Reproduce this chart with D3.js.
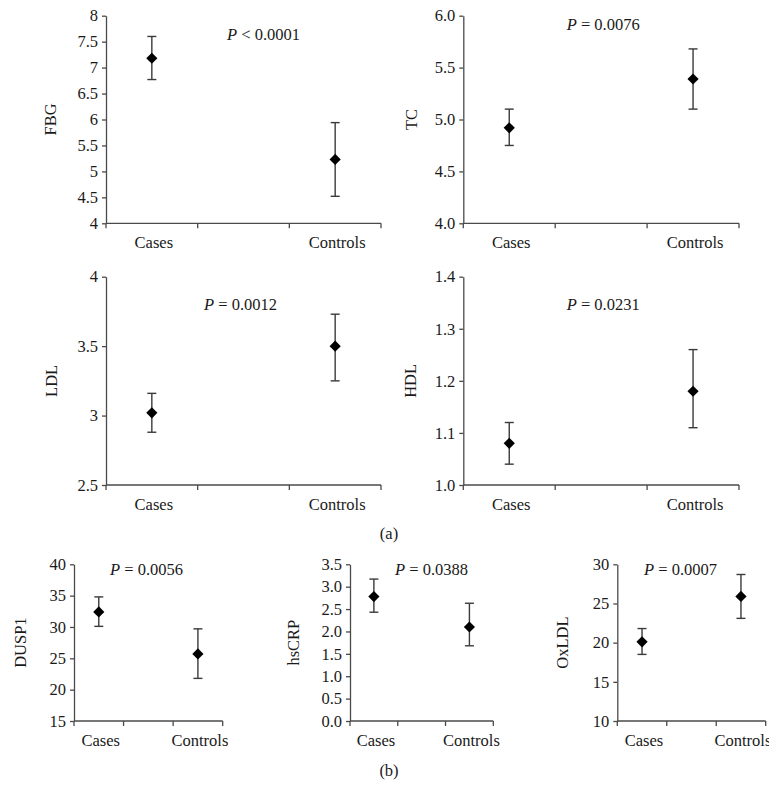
<!DOCTYPE html>
<html>
<head>
<meta charset="utf-8">
<script src="https://cdn.jsdelivr.net/npm/d3@7/dist/d3.min.js"></script>
<style>
  html, body { margin: 0; padding: 0; background: #fff; }
  svg { display: block; }
  text { font-family: "Liberation Serif", "Times New Roman", serif; fill: #1a1a1a; }
</style>
</head>
<body>
<svg id="chart" width="779" height="804"></svg>
<script>
// ---------- data ----------
const groups = ["Cases", "", "Controls"];
const metrics = ["FBG", "TC", "LDL", "HDL", "DUSP1", "hsCRP", "OxLDL"];
const pSigns = ["<", "=", "=", "=", "=", "=", "="];
const pValues = ["0.0001", "0.0076", "0.0012", "0.0231", "0.0056", "0.0388", "0.0007"];
const caseMean = [7.18, 4.92, 3.02, 1.08, 32.4, 2.78, 20.1];
const caseLow  = [6.77, 4.75, 2.88, 1.04, 30.1, 2.43, 18.5];
const caseHigh = [7.60, 5.10, 3.16, 1.12, 34.8, 3.17, 21.8];
const ctrlMean = [5.23, 5.39, 3.50, 1.18, 25.7, 2.10, 25.9];
const ctrlLow  = [4.52, 5.10, 3.25, 1.11, 21.8, 1.68, 23.1];
const ctrlHigh = [5.94, 5.68, 3.73, 1.26, 29.7, 2.63, 28.7];
const yTicks = [
  [4, 4.5, 5, 5.5, 6, 6.5, 7, 7.5, 8],
  [4.0, 4.5, 5.0, 5.5, 6.0],
  [2.5, 3, 3.5, 4],
  [1.0, 1.1, 1.2, 1.3, 1.4],
  [15, 20, 25, 30, 35, 40],
  [0.0, 0.5, 1.0, 1.5, 2.0, 2.5, 3.0, 3.5],
  [10, 15, 20, 25, 30]
];
const yFormats = ["", ".1f", "", ".1f", "", ".1f", ""];
const subLabels = ["(a)", "(b)"];

// ---------- layout ----------
const layout = [
  {x0: 106,   x1: 381,   yTop: 15.7,  yBot: 223.3, px: 227,   py: 40,  tx: 56},
  {x0: 463.3, x1: 739,   yTop: 15.7,  yBot: 223.3, px: 566.7, py: 30,  tx: 416.5},
  {x0: 106,   x1: 381,   yTop: 276.7, yBot: 485,   px: 204,   py: 310, tx: 56.5},
  {x0: 463.3, x1: 739,   yTop: 276.7, yBot: 485,   px: 566.7, py: 310, tx: 416},
  {x0: 74,    x1: 222.7, yTop: 564.3, yBot: 721,   px: 110,   py: 575, tx: 26},
  {x0: 350,   x1: 493.3, yTop: 564.3, yBot: 721,   px: 395,   py: 575, tx: 299},
  {x0: 617.3, x1: 765.7, yTop: 564.3, yBot: 721,   px: 644,   py: 575, tx: 568}
];
const subPos = [{x: 389, y: 539}, {x: 389, y: 776}];

const svg = d3.select("#chart");
const FS = 16.5;
const axisColor = "#4a4a4a";
const barColor = "#3a3a3a";

svg.append("defs").append("clipPath").attr("id", "pageclip")
  .append("rect").attr("x", 0).attr("y", 0).attr("width", 769).attr("height", 804);

const root = svg.append("g").attr("clip-path", "url(#pageclip)");

metrics.forEach((m, i) => {
  const L = layout[i];
  const ticks = yTicks[i];
  const y = d3.scaleLinear().domain([ticks[0], ticks[ticks.length - 1]]).range([L.yBot, L.yTop]);
  const x = d3.scaleBand().domain(groups).range([L.x0, L.x1]).padding(0);
  const g = root.append("g");

  // y axis
  const fmt = yFormats[i] ? d3.format(yFormats[i]) : d3.format("");
  const yAxis = d3.axisLeft(y).tickValues(ticks).tickFormat(fmt).tickSize(4).tickSizeOuter(0).tickPadding(4);
  const ya = g.append("g").attr("transform", `translate(${L.x0},0)`).call(yAxis);
  ya.select(".domain").attr("stroke", axisColor).attr("stroke-width", 1.3);
  ya.selectAll(".tick line").attr("stroke", axisColor).attr("stroke-width", 1.3);
  ya.selectAll(".tick text").attr("font-size", FS).attr("font-family", "Liberation Serif").attr("fill", "#1a1a1a");

  // x axis: line with ticks at band boundaries
  const edges = groups.map(d => x(d)).concat([L.x1]);
  g.append("line").attr("x1", L.x0).attr("x2", L.x1).attr("y1", L.yBot).attr("y2", L.yBot)
    .attr("stroke", axisColor).attr("stroke-width", 1.3);
  g.selectAll(".xt").data(edges).enter().append("line")
    .attr("x1", d => d).attr("x2", d => d).attr("y1", L.yBot).attr("y2", L.yBot + 5)
    .attr("stroke", axisColor).attr("stroke-width", 1.3);
  g.selectAll(".xl").data(groups.filter(d => d)).enter().append("text")
    .attr("x", d => x(d) + x.bandwidth() / 2 + 2)
    .attr("y", L.yBot + 24.5)
    .attr("text-anchor", "middle").attr("font-size", FS).text(d => d);

  // y title
  g.append("text")
    .attr("transform", `translate(${L.tx},${(L.yTop + L.yBot) / 2}) rotate(-90)`)
    .attr("text-anchor", "middle").attr("font-size", FS).text(m);

  // P label
  const pt = g.append("text").attr("x", L.px).attr("y", L.py).attr("font-size", FS);
  pt.append("tspan").attr("font-style", "italic").text("P");
  pt.append("tspan").text(" " + pSigns[i] + " " + pValues[i]);

  // error bars + markers
  const pts = [
    {grp: "Cases", mean: caseMean[i], lo: caseLow[i], hi: caseHigh[i]},
    {grp: "Controls", mean: ctrlMean[i], lo: ctrlLow[i], hi: ctrlHigh[i]}
  ];
  const cap = 4.5;
  pts.forEach(p => {
    const cx = x(p.grp) + x.bandwidth() / 2;
    g.append("line").attr("x1", cx).attr("x2", cx).attr("y1", y(p.lo)).attr("y2", y(p.hi))
      .attr("stroke", barColor).attr("stroke-width", 1.4);
    [p.lo, p.hi].forEach(v => {
      g.append("line").attr("x1", cx - cap).attr("x2", cx + cap).attr("y1", y(v)).attr("y2", y(v))
        .attr("stroke", barColor).attr("stroke-width", 1.4);
    });
    const cy = y(p.mean);
    const r = 5.6;
    g.append("path")
      .attr("d", `M${cx},${cy - r}L${cx + r},${cy}L${cx},${cy + r}L${cx - r},${cy}Z`)
      .attr("fill", "#000");
  });
});

subLabels.forEach((s, k) => {
  root.append("text").attr("x", subPos[k].x).attr("y", subPos[k].y)
    .attr("text-anchor", "middle").attr("font-size", 16.5).text(s);
});
</script>
</body>
</html>
